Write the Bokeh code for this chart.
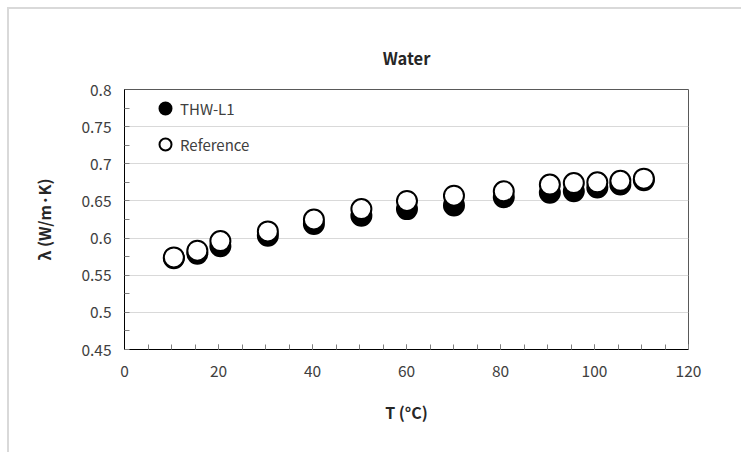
import numpy as np
from bokeh.plotting import figure
from bokeh.models import (ColumnDataSource, FixedTicker, Legend, LegendItem)
from bokeh.embed import file_html
from bokeh.resources import INLINE

# ---- data ----
temp_thw = [10.5, 15.5, 20.4, 30.5, 40.3, 50.4, 60.1, 70.1, 80.7, 90.5, 95.6, 100.6, 105.5, 110.5]
lam_thw = [0.573, 0.579, 0.589, 0.603, 0.619, 0.630, 0.639, 0.644, 0.655, 0.661, 0.663, 0.668, 0.672, 0.678]
temp_ref = [10.5, 15.5, 20.4, 30.5, 40.3, 50.4, 60.1, 70.1, 80.7, 90.5, 95.6, 100.6, 105.5, 110.5]
lam_ref = [0.574, 0.583, 0.596, 0.609, 0.625, 0.639, 0.650, 0.657, 0.663, 0.672, 0.674, 0.675, 0.677, 0.680]

x_ticks = [0, 20, 40, 60, 80, 100, 120]
y_ticks = [0.45, 0.5, 0.55, 0.6, 0.65, 0.7, 0.75, 0.8]
y_tick_labels = ["0.45", "0.5", "0.55", "0.6", "0.65", "0.7", "0.75", "0.8"]

FONT = "Noto Sans CJK KR"
TXT = "#404040"
DARK = "#262626"

p = figure(width=734, height=445, output_backend="svg", toolbar_location=None,
           x_range=(0, 120), y_range=(0.45, 0.8),
           min_border_left=115, min_border_right=55, min_border_top=80, min_border_bottom=105)
p.margin = (7, 0, 0, 7)
p.styles = {"border-left": "2px solid #d9d9d9", "border-top": "2px solid #d9d9d9"}

p.title.text = "Water"
p.title.align = "center"
p.title.text_font = FONT
p.title.text_font_size = "16.5px"
p.title.text_font_style = "bold"
p.title.text_color = DARK
p.title.standoff = 39

p.outline_line_color = "#595959"
p.outline_line_width = 1

p.xgrid.visible = False
p.ygrid.grid_line_color = "#d9d9d9"
p.ygrid.grid_line_width = 1

p.xaxis.ticker = FixedTicker(ticks=x_ticks, minor_ticks=list(np.arange(0, 121, 5)))
p.yaxis.ticker = FixedTicker(ticks=y_ticks, minor_ticks=list(np.arange(0.45, 0.801, 0.025)))
p.yaxis.major_label_overrides = {t: s for t, s in zip(y_ticks, y_tick_labels)}

for ax in (p.xaxis[0], p.yaxis[0]):
    ax.axis_line_color = "#000000"
    ax.axis_line_width = 1
    ax.major_label_text_font = FONT
    ax.major_label_text_font_size = "15.5px"
    ax.major_label_text_color = TXT
    ax.minor_tick_out = 0
    ax.minor_tick_in = 5
    ax.minor_tick_line_color = "#808080"
    ax.major_tick_line_color = "#808080"
    ax.major_tick_out = 0
    ax.axis_label_text_font = FONT
    ax.axis_label_text_font_size = "16px"
    ax.axis_label_text_font_style = "bold"
    ax.axis_label_text_color = DARK

p.xaxis.major_tick_in = 5
p.yaxis.major_tick_in = 0
p.xaxis.major_label_standoff = 15
p.yaxis.major_label_standoff = 13

p.yaxis.axis_label = "λ (W/m·K)"
p.yaxis.axis_label_standoff = 22
p.xaxis.axis_label = "T (°C)"
p.xaxis.axis_label_standoff = 20

src_thw = ColumnDataSource(dict(x=temp_thw, y=lam_thw))
src_ref = ColumnDataSource(dict(x=temp_ref, y=lam_ref))

r1 = p.scatter("x", "y", source=src_thw, size=20, fill_color="black",
               line_color="black", line_width=2)
r2 = p.scatter("x", "y", source=src_ref, size=20, fill_color="white",
               line_color="black", line_width=2)

legend = Legend(items=[LegendItem(label="THW-L1", renderers=[r1]),
                       LegendItem(label="Reference", renderers=[r2])],
                location=(26, 190), glyph_width=30, glyph_height=30,
                spacing=6, padding=0, margin=0, label_standoff=0,
                label_text_font=FONT, label_text_font_size="15px",
                label_text_color=TXT, border_line_color=None,
                background_fill_alpha=0)
p.add_layout(legend, "center")

open("out.html", "w").write(file_html(p, INLINE))
